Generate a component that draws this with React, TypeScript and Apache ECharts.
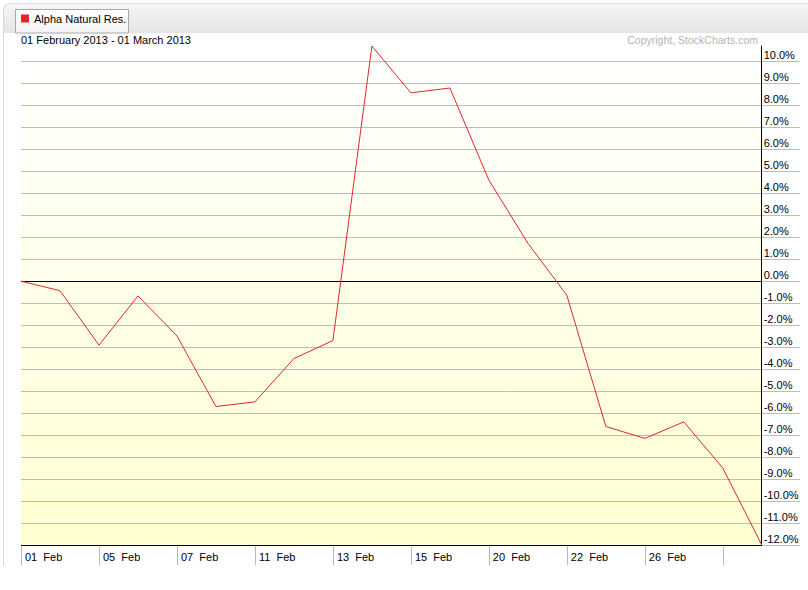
import React, { useEffect, useRef } from "react";
import * as echarts from "echarts";

const SERIES_NAME = "Alpha Natural Res.";
const TITLE = "01 February 2013 - 01 March 2013";
const COPYRIGHT = "Copyright, StockCharts.com";

const categories = [
  "01  Feb", "04  Feb", "05  Feb", "06  Feb", "07  Feb", "08  Feb",
  "11  Feb", "12  Feb", "13  Feb", "14  Feb", "15  Feb",
  "19  Feb", "20  Feb", "21  Feb", "22  Feb",
  "25  Feb", "26  Feb", "27  Feb", "28  Feb", "01  Mar",
];

const values = [
  0, -0.43, -2.91, -0.67, -2.49, -5.7, -5.49, -3.52, -2.7, 10.7,
  8.57, 8.79, 4.6, 1.73, -0.64, -6.61, -7.15, -6.4, -8.5, -12.0,
];

const xTickIdx = [0, 2, 4, 6, 8, 10, 12, 14, 16, 18];
const xLabelIdx = [0, 2, 4, 6, 8, 10, 12, 14, 16];
const yTicks = [-12, -11, -10, -9, -8, -7, -6, -5, -4, -3, -2, -1, 0, 1, 2, 3, 4, 5, 6, 7, 8, 9, 10];

const Y_MIN = -12;
const Y_MAX = 10.7;
const X_LAST = values.length - 1;
const X_MAX = 19.98;

const FONT = "'Liberation Sans', Arial, Helvetica, sans-serif";

export default function App() {
  const ref = useRef<HTMLDivElement>(null);

  useEffect(() => {
    if (!ref.current) return;
    const chart = echarts.init(ref.current, undefined, { renderer: "svg" });
    const data = values.map((v, i) => [i, v]);

    chart.setOption({
      animation: false,
      textStyle: { fontFamily: FONT },
      legend: {
        data: [SERIES_NAME],
        left: 21,
        top: 13,
        padding: 0,
        icon: "rect",
        itemWidth: 8,
        itemHeight: 8,
        selectedMode: false,
        textStyle: { fontSize: 11, color: "#000", fontFamily: FONT },
      },
      graphic: [
        {
          type: "rect",
          z: -9,
          shape: { x: 4, y: 4, width: 820, height: 29 },
          style: {
            fill: new echarts.graphic.LinearGradient(0, 0, 0, 1, [
              { offset: 0, color: "#f6f6f6" },
              { offset: 1, color: "#e4e4e4" },
            ]),
          },
          silent: true,
        },
        {
          type: "polyline",
          z: -8,
          shape: { points: [[3.5, 566], [3.5, 8], [8, 3.5], [820, 3.5]] },
          style: { stroke: "#d8d8d8", lineWidth: 1, fill: null },
          silent: true,
        },
        {
          type: "rect",
          z: -8,
          shape: { x: 15.5, y: 9.5, width: 113, height: 23.5 },
          style: {
            fill: new echarts.graphic.LinearGradient(0, 0, 0, 1, [
              { offset: 0, color: "#ffffff" },
              { offset: 1, color: "#f4f4f4" },
            ]),
            stroke: "#a8a8a8",
            lineWidth: 1,
          },
          silent: true,
        },
        {
          type: "text",
          x: 21,
          y: 39.5,
          style: {
            text: TITLE,
            fontSize: 11,
            fontFamily: FONT,
            fill: "#000",
            verticalAlign: "middle",
            align: "left",
          },
          silent: true,
        },
        {
          type: "text",
          x: 758,
          y: 39.5,
          style: {
            text: COPYRIGHT,
            fontSize: 10.5,
            fontFamily: FONT,
            fill: "#b4b4b4",
            verticalAlign: "middle",
            align: "right",
          },
          silent: true,
        },
      ],
      grid: { left: 21, right: 8, top: 46, bottom: 45, containLabel: false },
      xAxis: {
        type: "value",
        min: 0,
        max: X_MAX,
        axisLine: { show: false, onZero: false },
        splitLine: { show: false },
        axisTick: {
          show: true,
          customValues: xTickIdx,
          length: 20,
          lineStyle: { color: "#b8b8b8", width: 1 },
        },
        axisLabel: {
          customValues: xLabelIdx,
          formatter: (v: number) => categories[Math.round(v)] ?? "",
          align: "left",
          padding: [0, 0, 0, 4],
          margin: 6,
          fontSize: 11,
          color: "#000",
          fontFamily: FONT,
        },
      },
      yAxis: {
        type: "value",
        position: "right",
        offset: -38.3,
        min: Y_MIN,
        max: Y_MAX,
        axisLine: { show: true, onZero: false, lineStyle: { color: "#000", width: 1 } },
        axisTick: { show: false, customValues: yTicks },
        splitLine: { show: true, lineStyle: { color: "#bdbdbd", width: 1 } },
        axisLabel: {
          customValues: yTicks,
          formatter: (v: number) => v.toFixed(1) + "%",
          align: "left",
          verticalAlign: "bottom",
          lineHeight: 12,
          margin: 2,
          fontSize: 11,
          color: "#000",
          fontFamily: FONT,
        },
      },
      series: [
        {
          name: SERIES_NAME,
          type: "line",
          data,
          symbol: "none",
          z: 5,
          itemStyle: { color: "#e3262b" },
          lineStyle: { color: "#e3262b", width: 1 },
          markArea: {
            z: -1,
            silent: true,
            data: [
              [
                {
                  coord: [0, Y_MAX],
                  itemStyle: {
                    color: new echarts.graphic.LinearGradient(0, 0, 0, 1, [
                      { offset: 0, color: "#ffffff" },
                      { offset: 1, color: "#ffffd2" },
                    ]),
                  },
                },
                { coord: [X_LAST, Y_MIN] },
              ],
            ],
          },
          markLine: {
            z: 3,
            silent: true,
            symbol: "none",
            label: { show: false },
            lineStyle: { color: "#000", width: 1, type: "solid" },
            data: [
              [{ coord: [0, 0] }, { coord: [X_LAST, 0] }],
              [{ coord: [0, Y_MIN] }, { coord: [X_LAST, Y_MIN] }],
            ],
          },
        },
      ],
    });

    return () => chart.dispose();
  }, []);

  return <div ref={ref} style={{ width: 808, height: 590, position: "absolute", left: 0, top: 0 }} />;
}
